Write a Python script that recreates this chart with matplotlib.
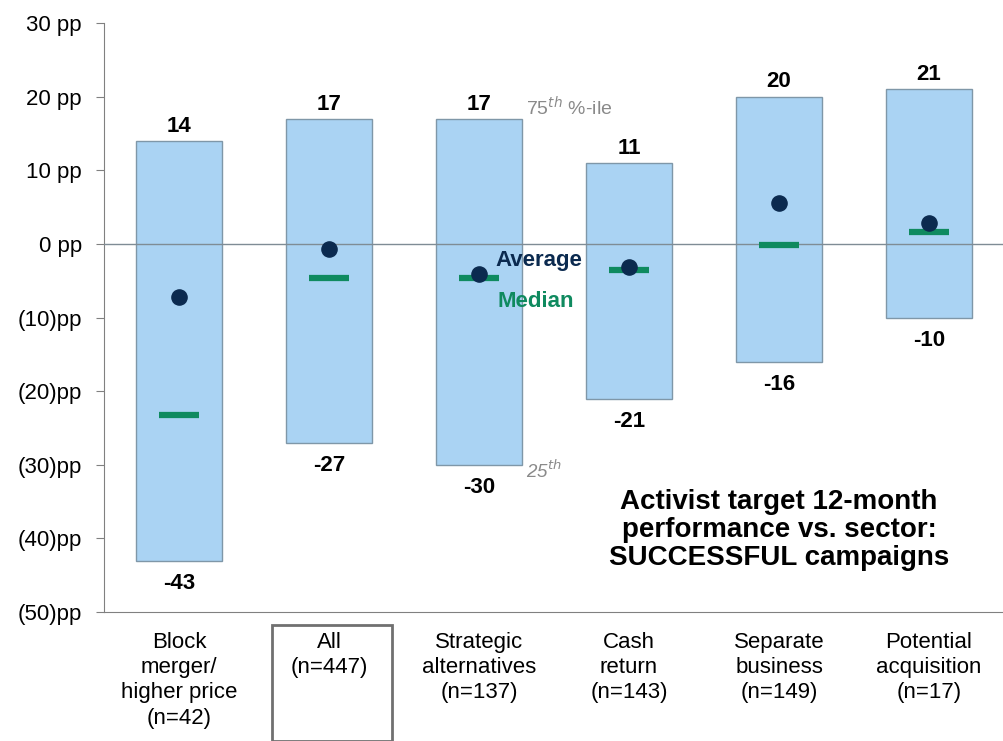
import matplotlib.pyplot as plt
from matplotlib.patches import Rectangle

plt.rcParams['font.family'] = ['Liberation Sans', 'DejaVu Sans']

# data
categories = ['Block\nmerger/\nhigher price\n(n=42)', 'All\n(n=447)', 'Strategic\nalternatives\n(n=137)',
              'Cash\nreturn\n(n=143)', 'Separate\nbusiness\n(n=149)', 'Potential\nacquisition\n(n=17)']
p75 = [14, 17, 17, 11, 20, 21]
p25 = [-43, -27, -30, -21, -16, -10]
average = [-7.2, -0.7, -4.1, -3.1, 5.6, 2.9]
median = [-23.2, -4.7, -4.7, -3.6, -0.1, 1.6]
yticks = [30, 20, 10, 0, -10, -20, -30, -40, -50]
ytick_labels = ['30 pp', '20 pp', '10 pp', '0 pp', '(10)pp', '(20)pp', '(30)pp', '(40)pp', '(50)pp']

bar_color = '#aad3f3'
navy = '#0b2a4f'
green = '#0f8a5f'

fig = plt.figure(figsize=(10.04, 7.41), dpi=100)
ax = fig.add_axes([0.1036, 0.174, 0.8964, 0.795])

x = list(range(len(categories)))
heights = [t - b for t, b in zip(p75, p25)]
ax.bar(x, heights, bottom=p25, width=0.57, color=bar_color, edgecolor='#7f97a8', linewidth=1, zorder=2)
ax.axhline(0, color='#7f8c95', linewidth=1, zorder=3)
ax.scatter(x, median, marker='_', s=850, linewidths=4.5, color=green, zorder=4)
ax.scatter(x, average, marker='o', s=120, color=navy, zorder=5)

for i in x:
    ax.annotate(str(p75[i]), (i, p75[i]), xytext=(0, 3), textcoords='offset points',
                ha='center', va='bottom', fontsize=16, fontweight='bold')
    ax.annotate(str(p25[i]), (i, p25[i]), xytext=(0, -9), textcoords='offset points',
                ha='center', va='top', fontsize=16, fontweight='bold')

ax.text(2.31, 18.5, '75$^{th}$ %-ile', color='#8a8a8a', fontsize=14, ha='left', va='center')
ax.text(2.31, -30.8, '25$^{th}$', color='#8a8a8a', fontsize=13.5, ha='left', va='center', style='italic')
ax.text(2.11, -2.3, 'Average', color=navy, fontsize=16, fontweight='bold', ha='left', va='center')
ax.text(2.12, -7.8, 'Median', color=green, fontsize=16, fontweight='bold', ha='left', va='center')
ax.text(4.0, -38.9, 'Activist target 12-month\nperformance vs. sector:\nSUCCESSFUL campaigns',
        fontsize=20, fontweight='bold', ha='center', va='center', linespacing=1.1)

ax.set_xlim(-0.5, 5.5)
ax.set_ylim(-50, 30)
ax.set_yticks(yticks)
ax.set_yticklabels(ytick_labels, fontsize=16)
ax.tick_params(axis='y', direction='out', length=6, pad=10, color='#808080')
ax.set_xticks(x)
ax.set_xticklabels(categories, fontsize=16, linespacing=1.28, va='top')
ax.tick_params(axis='x', length=0, pad=14)
for s in ['top', 'right']:
    ax.spines[s].set_visible(False)
for s in ['left', 'bottom']:
    ax.spines[s].set_color('#808080')

# box round the "All" label
fig.patches.append(Rectangle((272 / 1004, 0.0), 120 / 1004, 116 / 741, transform=fig.transFigure,
                             fill=False, edgecolor='#707070', linewidth=2))

fig.savefig('out.png', dpi=100)
